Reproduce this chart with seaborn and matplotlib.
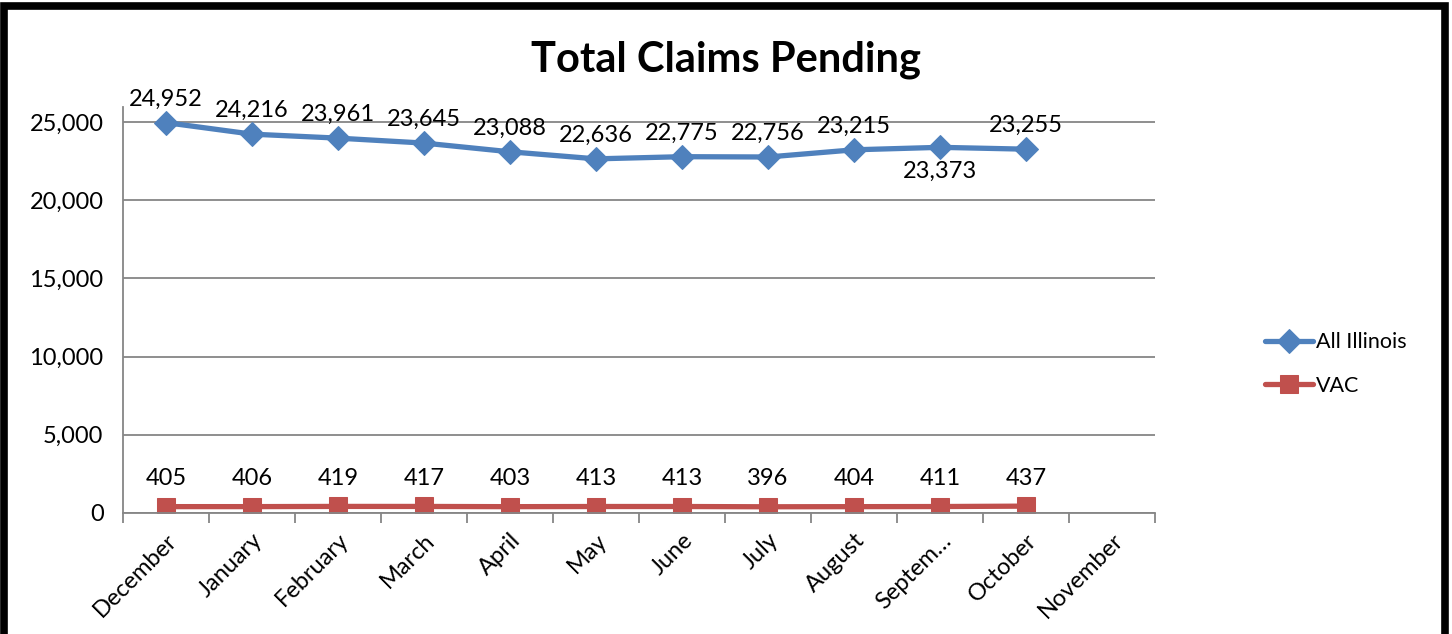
import matplotlib
matplotlib.use("Agg")
import matplotlib.pyplot as plt
import seaborn as sns
import pandas as pd
from matplotlib.patches import Rectangle
from matplotlib.ticker import FuncFormatter, FixedLocator

months = ["December", "January", "February", "March", "April", "May", "June",
          "July", "August", "Septem\u2026", "October", "November"]
all_illinois = [24952, 24216, 23961, 23645, 23088, 22636, 22775, 22756, 23215, 23373, 23255]
vac = [405, 406, 419, 417, 403, 413, 413, 396, 404, 411, 437]

BLUE = "#4F81BD"
RED = "#C0504D"
GREY = "#868686"

sns.set_theme(style="white")
plt.rcParams["font.family"] = ["Lato", "DejaVu Sans"]
plt.rcParams["text.color"] = "black"

df = pd.DataFrame({
    "pos": list(range(len(all_illinois))) * 2,
    "value": all_illinois + vac,
    "series": ["All Illinois"] * len(all_illinois) + ["VAC"] * len(vac),
})

fig = plt.figure(figsize=(14.52, 6.34), dpi=100)
ax = fig.add_axes([0.0847, 0.1909, 0.7108, 0.6403])

sns.lineplot(data=df[df.series == "All Illinois"], x="pos", y="value", ax=ax,
             color=BLUE, linewidth=3.8, marker="D", markersize=12,
             markeredgecolor=BLUE, label="All Illinois")
sns.lineplot(data=df[df.series == "VAC"], x="pos", y="value", ax=ax,
             color=RED, linewidth=3.8, marker="s", markersize=13,
             markeredgecolor=RED, label="VAC")

# data labels
FS = 17
for i, v in enumerate(all_illinois):
    dy = -17 if months[i].startswith("Septem") else 17
    ax.annotate(f"{v:,}", (i, v), textcoords="offset points", xytext=(0, dy),
                ha="center", va="center", fontsize=FS, color="black")
for i, v in enumerate(vac):
    ax.annotate(f"{v:,}", (i, v), textcoords="offset points", xytext=(0, 20),
                ha="center", va="center", fontsize=FS, color="black")

ax.set_xlim(-0.5, len(months) - 0.5)
ax.set_ylim(0, 25950)
ax.set_yticks(range(0, 25001, 5000))
ax.yaxis.set_major_formatter(FuncFormatter(lambda v, p: f"{int(v):,}"))
ax.grid(axis="y", color=GREY, linewidth=1.3)
ax.set_axisbelow(True)

ax.set_xticks(range(len(months)))
ax.set_xticklabels(months, rotation=45, ha="right", rotation_mode="anchor", fontsize=FS)
ax.xaxis.set_minor_locator(FixedLocator([x - 0.5 for x in range(len(months) + 1)]))
ax.tick_params(axis="x", which="major", length=0, pad=12, labelcolor="black")
ax.tick_params(axis="x", which="minor", length=7, width=1.3, color=GREY, bottom=True)
ax.tick_params(axis="y", length=0, labelsize=FS, pad=14, labelcolor="black")
ax.set_xlabel("")
ax.set_ylabel("")

for s in ["top", "right"]:
    ax.spines[s].set_visible(False)
for s in ["left", "bottom"]:
    ax.spines[s].set_color(GREY)
    ax.spines[s].set_linewidth(1.3)

fig.text(0.5, 0.905, "Total Claims Pending", ha="center", va="center",
         fontsize=30, fontweight="bold", color="black")

leg = ax.legend(loc="center left", bbox_to_anchor=(0.858, 0.426),
                bbox_transform=fig.transFigure, frameon=False, fontsize=15.5,
                handlelength=2.2, labelspacing=1.1, handletextpad=0.15)

# thick outer border
fig.patches.append(Rectangle((0.003, -0.05), 0.992, 1.04, transform=fig.transFigure,
                             fill=False, edgecolor="black", linewidth=5.5))

fig.savefig("out.png", dpi=100)
